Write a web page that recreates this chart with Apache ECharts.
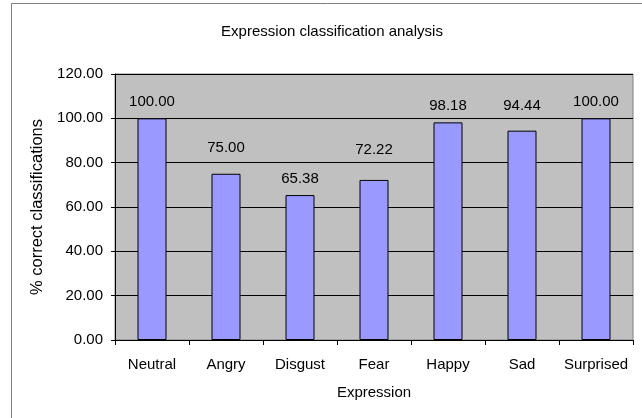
<!DOCTYPE html>
<html>
<head>
<meta charset="utf-8">
<script src="https://cdn.jsdelivr.net/npm/echarts@6/dist/echarts.min.js"></script>
<style>html,body{margin:0;padding:0;background:#fff}#c{width:642px;height:418px}</style>
</head>
<body>
<div id="c"></div>
<script>
const categories = ["Neutral", "Angry", "Disgust", "Fear", "Happy", "Sad", "Surprised"];
const values = [100.00, 75.00, 65.38, 72.22, 98.18, 94.44, 100.00];
const yTicks = [0, 20, 40, 60, 80, 100, 120];

// label offsets (style only)
const labelDist = [9, 18, 9, 23, 9, 17, 9];

const chart = echarts.init(document.getElementById('c'), null, {renderer: 'canvas'});
const FONT = '"Liberation Sans", Arial, sans-serif';
const yBase = {
  type: 'value', min: 0, max: 120, interval: 20
};
chart.setOption({
  animation: false,
  backgroundColor: '#fff',
  title: {
    text: 'Expression classification analysis',
    left: 327, top: 19, textAlign: 'center',
    textStyle: {fontFamily: FONT, fontSize: 15, fontWeight: 'normal', color: '#000'}
  },
  graphic: [{
    type: 'rect', shape: {x: 11.5, y: 3.5, width: 640, height: 420},
    style: {fill: 'none', stroke: '#808080', lineWidth: 1}, silent: true, z: -1
  }],
  grid: {left: 115, right: 9, top: 74, bottom: 78, show: true, backgroundColor: '#c0c0c0', borderColor: '#808080', borderWidth: 1},
  xAxis: {
    type: 'category', data: categories,
    name: 'Expression', nameLocation: 'middle', nameGap: 45,
    nameTextStyle: {fontFamily: FONT, fontSize: 15, color: '#000'},
    axisLine: {lineStyle: {color: '#000', width: 1}},
    axisTick: {show: true, length: 5, lineStyle: {color: '#000'}},
    axisLabel: {fontFamily: FONT, fontSize: 15, color: '#000', margin: 17, interval: 0}
  },
  yAxis: [Object.assign({}, yBase, {
    name: '% correct classifications', nameLocation: 'middle', nameGap: 69,
    nameTextStyle: {fontFamily: FONT, fontSize: 16.5, color: '#000'},
    axisLine: {show: true, lineStyle: {color: '#000', width: 1}},
    axisTick: {show: true, length: 4, lineStyle: {color: '#000'}},
    axisLabel: {fontFamily: FONT, fontSize: 15, color: '#000', margin: 12,
      formatter: v => yTicks.includes(v) ? v.toFixed(2) : ''},
    splitLine: {show: true, lineStyle: {color: '#000', width: 1}}
  }), Object.assign({}, yBase, {
    position: 'left',
    axisLine: {show: false},
    axisTick: {show: true, inside: true, length: 4, lineStyle: {color: '#000'}},
    axisLabel: {show: false},
    splitLine: {show: false}
  })],
  series: [{
    type: 'bar',
    barWidth: 29,
    data: values.map((v, i) => ({
      value: v,
      label: {distance: labelDist[i]}
    })),
    itemStyle: {color: '#9999ff', borderColor: '#000', borderWidth: 1},
    label: {show: true, position: 'top', fontFamily: FONT, fontSize: 15, color: '#000',
      formatter: p => p.value.toFixed(2)}
  }]
});
</script>
</body>
</html>
